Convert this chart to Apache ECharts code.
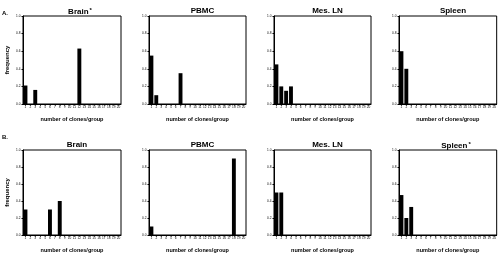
<!DOCTYPE html>
<html>
<head>
<meta charset="utf-8">
<script src="https://cdn.jsdelivr.net/npm/echarts@6/dist/echarts.min.js"></script>
<style>
  html, body { margin: 0; padding: 0; background: #fff; }
  #chart { width: 499px; height: 254px; }
</style>
</head>
<body>
<div id="chart"></div>
<script>
// clones per group, 1..20
var categories = ['1','2','3','4','5','6','7','8','9','10','11','12','13','14','15','16','17','18','19','20'];
var yTicks = ['0.0','0.2','0.4','0.6','0.8','1.0'];

// row A
var brainA  = [0.21,0,0.16,0,0,0,0,0,0,0,0,0.63,0,0,0,0,0,0,0,0];
var pbmcA   = [0.55,0.10,0,0,0,0,0.35,0,0,0,0,0,0,0,0,0,0,0,0,0];
var mesLnA  = [0.45,0.20,0.15,0.20,0,0,0,0,0,0,0,0,0,0,0,0,0,0,0,0];
var spleenA = [0.60,0.40,0,0,0,0,0,0,0,0,0,0,0,0,0,0,0,0,0,0];
// row B
var brainB  = [0.30,0,0,0,0,0.30,0,0.40,0,0,0,0,0,0,0,0,0,0,0,0];
var pbmcB   = [0.10,0,0,0,0,0,0,0,0,0,0,0,0,0,0,0,0,0.90,0,0];
var mesLnB  = [0.50,0.50,0,0,0,0,0,0,0,0,0,0,0,0,0,0,0,0,0,0];
var spleenB = [0.47,0.20,0.33,0,0,0,0,0,0,0,0,0,0,0,0,0,0,0,0,0];

var panels = [
  {title: 'Brain', star: true,  data: brainA,  left: 23,  top: 16,  w: 98, h: 88, ylab: true},
  {title: 'PBMC',  star: false, data: pbmcA,   left: 149, top: 16,  w: 97, h: 88},
  {title: 'Mes. LN', star: false, data: mesLnA, left: 274, top: 16, w: 97, h: 88},
  {title: 'Spleen', star: false, data: spleenA, left: 399, top: 16, w: 98, h: 88},
  {title: 'Brain', star: false, data: brainB,  left: 23,  top: 150, w: 98, h: 89, ylab: true},
  {title: 'PBMC',  star: false, data: pbmcB,   left: 149, top: 150, w: 97, h: 89},
  {title: 'Mes. LN', star: false, data: mesLnB, left: 274, top: 150, w: 97, h: 89},
  {title: 'Spleen', star: true, data: spleenB, left: 399, top: 150, w: 98, h: 89}
];

var FONT = '"Liberation Sans", Arial, sans-serif';
var grids = [], xAxes = [], yAxes = [], series = [], titles = [];

panels.forEach(function (p, i) {
  grids.push({
    left: p.left, top: p.top, width: p.w, height: p.h,
    show: true, borderColor: '#000', borderWidth: 1, backgroundColor: 'transparent'
  });
  xAxes.push({
    gridIndex: i,
    type: 'category',
    data: categories,
    name: 'number of clones/group',
    nameLocation: 'middle',
    nameGap: 12,
    nameTextStyle: {fontFamily: FONT, fontWeight: 'bold', fontSize: 5.5, color: '#000'},
    axisLine: {lineStyle: {color: '#000', width: 1}},
    axisTick: {show: true, length: 1.5, alignWithLabel: true, lineStyle: {color: '#000'}},
    axisLabel: {interval: 0, fontSize: 3.2, margin: 2, color: '#000', fontFamily: FONT}
  });
  yAxes.push({
    gridIndex: i,
    type: 'value',
    min: 0, max: 1, interval: 0.2,
    name: p.ylab ? 'frequency' : '',
    nameLocation: 'middle',
    nameGap: 13,
    nameTextStyle: {fontFamily: FONT, fontWeight: 'bold', fontSize: 6, color: '#000'},
    splitLine: {show: false},
    axisLine: {show: true, lineStyle: {color: '#000', width: 1}},
    axisTick: {show: true, length: 1.5, lineStyle: {color: '#000'}},
    axisLabel: {
      fontSize: 3.2, margin: 2.5, color: '#000', fontFamily: FONT,
      formatter: function (v) { return yTicks[Math.round(v * 5)]; }
    }
  });
  series.push({
    type: 'bar',
    xAxisIndex: i, yAxisIndex: i,
    data: p.data,
    barWidth: '80%',
    itemStyle: {color: '#000'},
    silent: true
  });
  titles.push({
    text: p.star ? p.title + '{s|*}' : p.title,
    left: p.left + p.w / 2 + (p.star ? 3 : 0),
    top: p.top - 14,
    textAlign: 'center',
    textStyle: {
      fontFamily: FONT, fontWeight: 'bold', fontSize: 8, color: '#000',
      rich: {s: {fontFamily: FONT, fontWeight: 'bold', fontSize: 6, color: '#000', verticalAlign: 'top', padding: [0, 0, 4, 1]}}
    }
  });
});

// panel letters
titles.push({text: 'A.', left: -3, top: 5, textStyle: {fontFamily: FONT, fontWeight: 'bold', fontSize: 6, color: '#000'}});
titles.push({text: 'B.', left: -3, top: 129, textStyle: {fontFamily: FONT, fontWeight: 'bold', fontSize: 6, color: '#000'}});

var chart = echarts.init(document.getElementById('chart'), null, {renderer: 'canvas'});
chart.setOption({
  animation: false,
  title: titles,
  grid: grids,
  xAxis: xAxes,
  yAxis: yAxes,
  series: series
});
</script>
</body>
</html>
